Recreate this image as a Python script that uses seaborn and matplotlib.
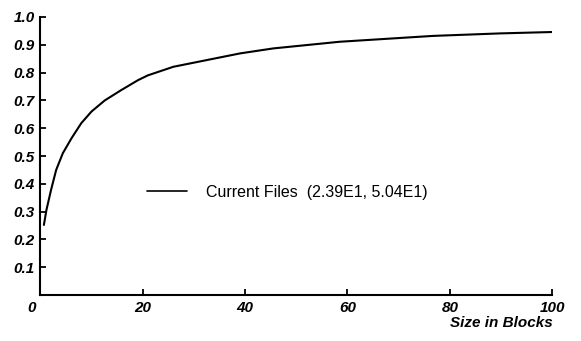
import matplotlib
matplotlib.use("Agg")
import matplotlib.pyplot as plt
import matplotlib.transforms as mtransforms
import seaborn as sns
import pandas as pd

# Data
size_blocks = [0.7, 1.2, 2.1, 3.1, 4.4, 6.1, 8.0, 10.0, 12.6, 15.8, 19.1, 21.0,
               26.0, 32.5, 39.0, 45.5, 52.0, 58.5, 63.7, 76.7, 89.8, 100.0]
fraction = [0.252, 0.306, 0.378, 0.450, 0.510, 0.564, 0.618, 0.660, 0.700, 0.737,
            0.773, 0.790, 0.821, 0.845, 0.869, 0.887, 0.899, 0.911, 0.917, 0.932,
            0.941, 0.946]
series_label = "Current Files  (2.39E1, 5.04E1)"
x_ticks = [0, 20, 40, 60, 80, 100]
x_ticklabels = ["0", "20", "40", "60", "80", "100"]
y_ticks = [0.1, 0.2, 0.3, 0.4, 0.5, 0.6, 0.7, 0.8, 0.9, 1.0]
y_ticklabels = ["0.1", "0.2", "0.3", "0.4", "0.5", "0.6", "0.7", "0.8", "0.9", "1.0"]
x_label = "Size in Blocks"

df = pd.DataFrame({"size": size_blocks, "frac": fraction, "series": series_label})

sns.set_theme(style="ticks")
plt.rcParams['font.family'] = ['Liberation Sans', 'DejaVu Sans']
plt.rcParams['text.color'] = 'black'

fig = plt.figure(figsize=(5.81, 3.41), dpi=100)
ax = fig.add_axes([40.3 / 581, 46 / 341, (552.3 - 40.3) / 581, (295 - 17) / 341])

sns.lineplot(data=df, x="size", y="frac", hue="series", palette=["black"],
             linewidth=1.5, ax=ax, estimator=None, sort=False)

ax.set_xlim(0, 100)
ax.set_ylim(0, 1.0)
ax.set_xticks(x_ticks)
ax.set_xticklabels(x_ticklabels)
ax.set_yticks(y_ticks)
ax.set_yticklabels(y_ticklabels)
ax.set_xlabel("")
ax.set_ylabel("")

for side in ["top", "right"]:
    ax.spines[side].set_visible(False)
for side in ["left", "bottom"]:
    ax.spines[side].set_linewidth(1.5)
    ax.spines[side].set_color("black")

ax.tick_params(axis="both", direction="in", length=4, width=1.3, color="black",
               labelsize=11, pad=4, labelcolor="black")
for lab in ax.get_xticklabels() + ax.get_yticklabels():
    lab.set_fontstyle("italic")
    lab.set_fontweight("bold")

# shift the origin "0" label slightly left as in the reference
first = ax.get_xticklabels()[0]
first.set_transform(first.get_transform() + mtransforms.ScaledTranslation(-9 / 100, 0, fig.dpi_scale_trans))

fig.text(553 / 581, (341 - 323) / 341, x_label, ha="right", va="center",
         fontsize=11, fontstyle="italic", fontweight="bold", color="black")

leg = ax.legend(loc="center left", bbox_to_anchor=(147 / 581, (341 - 192) / 341),
                bbox_transform=fig.transFigure, frameon=False, borderpad=0,
                borderaxespad=0, handlelength=2.5, handletextpad=1.2,
                prop={"size": 11.5, "family": "Liberation Sans"})
for line in leg.get_lines():
    line.set_linewidth(1.2)
for t in leg.get_texts():
    t.set_color("black")

ax.set_facecolor("white")
fig.patch.set_facecolor("white")
fig.savefig("out.png", dpi=100, facecolor="white")
